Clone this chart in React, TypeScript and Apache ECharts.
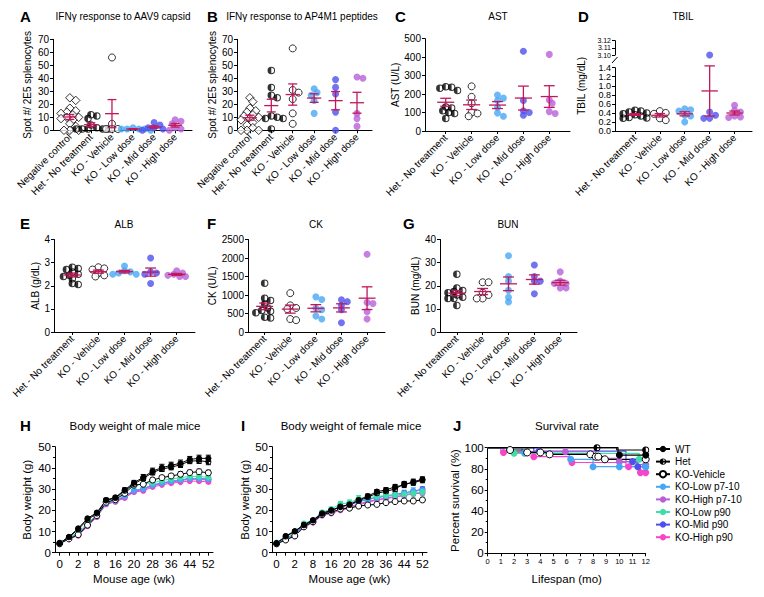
import { useEffect, useRef } from 'react';
import * as echarts from 'echarts';

const FONT = '"Liberation Sans", Arial, Helvetica, sans-serif';
const INK = '#000000';
const MEAN_COLOR = '#C2185B';
const COLOR_LOW = '#48A7F5';
const COLOR_MID = '#4E50EC';
const COLOR_HIGH = '#B860D8';
const COLOR_LOW_P90 = '#3FDEA6';
const COLOR_HIGH_P90 = '#F646C7';

// ---------- Panels A, B : IFNγ ELISpot (spots / 2E5 splenocytes) ----------
const ifnGroups = ['Negative control', 'Het - No treatment', 'KO - Vehicle', 'KO - Low dose', 'KO - Mid dose', 'KO - High dose'];
const aNegative = [25, 23, 17, 15, 14, 13, 12, 10, 10, 9, 8, 5, 3, 0, 0, 0];
const aHet = [12, 11, 9, 4, 2, 1, 1, 1, 1, 1];
const aVehicle = [56, 5, 1, 1, 1];
const aLow = [2, 1, 1, 1, 1, 0];
const aMid = [6, 4, 2, 2, 1, 0];
const aHigh = [8, 7, 5, 2, 1, 0];

const bNegative = [25, 22, 17, 15, 14, 12, 11, 10, 9, 8, 6, 4, 2, 0, 0, 0];
const bHet = [46, 33, 27, 25, 11, 10, 9, 9, 1];
const bVehicle = [63, 31, 29, 24, 13, 5];
const bLow = [32, 29, 27, 23, 13];
const bMid = [39, 33, 28, 14, 0];
const bHigh = [41, 40, 13, 9, 3];

// ---------- Panels C–G : serum chemistry ----------
const chemGroups = ['Het - No treatment', 'KO - Vehicle', 'KO - Low dose', 'KO - Mid dose', 'KO - High dose'];
const cHet = [240, 237, 232, 220, 130, 125, 110, 100, 95, 68];
const cVehicle = [242, 185, 150, 100, 95, 80];
const cLow = [195, 178, 165, 128, 97, 80];
const cMid = [432, 165, 110, 100, 85];
const cHigh = [415, 168, 150, 105, 95];

const dHet = [0.46, 0.44, 0.42, 0.40, 0.38, 0.36, 0.33, 0.30, 0.29, 0.28];
const dVehicle = [0.44, 0.40, 0.38, 0.28, 0.24];
const dLow = [0.49, 0.47, 0.44, 0.35, 0.33, 0.20];
const dMid = [3.10, 0.42, 0.35, 0.28, 0.28];
const dHigh = [0.57, 0.46, 0.42, 0.33, 0.31, 0.30];
const dUpperTicks = ['3.10', '3.11', '3.12'];

const eHet = [2.8, 2.75, 2.7, 2.6, 2.5, 2.45, 2.4, 2.3, 2.1, 2.05];
const eVehicle = [2.8, 2.75, 2.7, 2.55, 2.45, 2.4];
const eLow = [2.85, 2.65, 2.6, 2.55, 2.5, 2.5];
const eMid = [3.2, 2.6, 2.55, 2.5, 2.1];
const eHigh = [2.65, 2.55, 2.5, 2.45, 2.4, 2.4];

const fHet = [1320, 910, 850, 760, 650, 580, 560, 520, 400, 380];
const fVehicle = [1050, 720, 650, 620, 350, 320];
const fLow = [950, 880, 640, 600, 430, 350];
const fMid = [870, 820, 720, 600, 250];
const fHigh = [2100, 800, 770, 550, 350];

const gHet = [25, 19, 18, 17.5, 17, 16, 15, 14.5, 14.5, 11.5];
const gVehicle = [21.5, 21.5, 17, 16, 14.5, 14.5];
const gLow = [33, 24, 22, 18, 15, 13];
const gMid = [29, 24, 22, 22, 16.5];
const gHigh = [26, 22, 21, 21, 19, 19];

// ---------- Panels H, I : body weight (g) ----------
const ageWeeks = ['0', '1', '2', '4', '8', '12', '16', '18', '20', '24', '28', '32', '36', '40', '44', '48', '52'];
const cohortNames = ['WT', 'Het', 'KO-Vehicle', 'KO-Low p7-10', 'KO-High p7-10', 'KO-Low p90', 'KO-Mid p90', 'KO-High p90'];

const hWT = [4.4, 7.5, 11.5, 16.2, 18.9, 24.9, 26.1, 29.6, 33.0, 35.6, 38.5, 40.1, 41.2, 42.2, 44.0, 44.5, 44.5];
const hHet = [4.6, 7.3, 11.0, 15.6, 18.5, 24.6, 25.8, 29.2, 32.4, 35.0, 37.8, 39.5, 40.3, 41.5, 43.2, 43.4, 42.9];
const hVehicle = [4.2, 6.5, 8.5, 13.0, 17.5, 23.8, 25.0, 28.0, 31.9, 32.3, 34.3, 35.4, 36.2, 37.0, 37.8, 38.2, 37.7];
const hLowP7 = [4.5, 7.0, 8.8, 13.2, 17.3, 23.3, 24.6, 26.8, 29.4, 30.2, 32.0, 32.9, 33.7, 34.3, 35.0, 35.0, 34.8];
const hHighP7 = [4.8, 6.8, 8.3, 12.8, 17.0, 23.0, 24.2, 26.1, 29.0, 29.8, 31.6, 32.6, 33.3, 34.0, 34.6, 34.6, 34.2];
const hLowP90 = [4.6, 7.2, 9.5, 14.0, 17.8, 23.8, 25.0, 29.0, 31.8, 32.5, 33.0, 34.0, 34.8, 35.4, 36.0, 35.9, 35.6];
const hMidP90 = [4.5, 7.0, 8.6, 13.0, 17.2, 23.2, 24.4, 26.5, 29.2, 30.0, 31.9, 32.8, 33.6, 34.3, 35.0, 35.0, 34.6];
const hHighP90 = [4.4, 6.6, 8.0, 12.5, 16.8, 22.8, 24.0, 25.8, 28.6, 29.2, 31.0, 32.0, 32.8, 33.3, 33.8, 33.7, 33.4];
const hSemWT = [0.2, 0.4, 0.5, 0.6, 0.7, 0.8, 0.8, 1.0, 1.1, 1.3, 1.4, 1.6, 1.5, 1.5, 1.4, 1.5, 1.5];
const hSemHet = [0.2, 0.3, 0.4, 0.6, 0.6, 0.7, 0.7, 0.9, 1.0, 1.0, 1.1, 1.2, 1.2, 1.3, 1.2, 1.3, 1.4];
const hSemVehicle = [0.2, 0.3, 0.4, 0.5, 0.6, 0.6, 0.6, 0.7, 0.8, 0.8, 0.9, 1.0, 1.0, 1.1, 1.1, 1.2, 1.2];

const iWT = [4.4, 7.9, 10.2, 13.2, 15.4, 18.6, 20.1, 21.5, 22.8, 24.9, 26.7, 28.8, 29.6, 31.1, 31.9, 33.5, 34.6];
const iHet = [4.5, 7.6, 10.0, 13.0, 15.2, 18.4, 19.8, 21.8, 22.5, 24.5, 26.2, 28.0, 29.0, 30.0, 32.5, 33.0, 34.2];
const iVehicle = [4.2, 6.0, 7.9, 12.2, 14.6, 18.0, 19.0, 20.6, 21.0, 22.0, 22.5, 22.8, 23.6, 24.1, 24.4, 24.4, 24.9];
const iLowP7 = [4.4, 6.8, 8.6, 12.8, 15.0, 18.2, 19.6, 21.8, 22.6, 24.0, 25.0, 26.0, 26.6, 27.0, 28.0, 29.0, 29.5];
const iHighP7 = [4.0, 6.2, 7.8, 12.0, 14.2, 17.5, 18.5, 20.0, 21.0, 22.5, 23.8, 24.8, 25.5, 26.2, 27.0, 27.8, 28.2];
const iLowP90 = [4.8, 7.0, 9.0, 13.8, 15.4, 19.0, 20.6, 23.0, 23.6, 25.5, 26.0, 26.5, 27.0, 27.2, 27.5, 28.0, 28.6];
const iMidP90 = [4.5, 6.8, 8.6, 13.2, 15.0, 18.4, 19.8, 21.8, 22.8, 24.2, 25.2, 26.0, 26.8, 27.4, 28.2, 29.0, 30.0];
const iHighP90 = [4.2, 6.2, 8.0, 12.4, 14.4, 17.8, 19.0, 20.6, 21.6, 23.0, 24.2, 25.0, 25.8, 26.4, 27.2, 27.8, 28.4];
const iSemWT = [0.2, 0.3, 0.4, 0.5, 0.5, 0.6, 0.6, 0.7, 0.8, 0.9, 1.0, 1.0, 1.1, 1.1, 1.2, 1.2, 1.2];
const iSemHet = [0.2, 0.3, 0.4, 0.5, 0.5, 0.6, 0.6, 0.7, 0.7, 0.8, 0.9, 1.0, 1.0, 1.1, 1.1, 1.2, 1.2];
const iSemVehicle = [0.2, 0.3, 0.3, 0.4, 0.4, 0.5, 0.5, 0.5, 0.6, 0.6, 0.6, 0.7, 0.7, 0.7, 0.8, 0.8, 0.8];
const iSemLowP7 = [0.2, 0.3, 0.4, 0.5, 0.5, 0.6, 0.7, 0.8, 0.9, 1.0, 1.1, 1.2, 1.3, 1.4, 1.5, 1.6, 1.7];
const iSemLowP90 = [0.3, 0.4, 0.5, 0.6, 0.7, 0.8, 0.9, 1.2, 1.3, 1.5, 1.5, 1.6, 1.6, 1.7, 1.7, 1.8, 1.8];

// ---------- Panel J : survival [months, percent, censored] ----------
const survWT = [[0, 100, 0], [9.9, 93, 0], [10, 93, 1], [12, 93, 1]];
const survHet = [[0, 100, 0], [8.3, 100, 1], [9.8, 97.8, 0], [12, 97.8, 1]];
const survVehicle = [[0, 100, 0], [1.5, 97.8, 0], [1.7, 97.8, 1], [2.9, 95.5, 0], [3, 95.5, 1], [4, 95.5, 1], [4.6, 93.7, 0], [4.7, 93.7, 1], [7.8, 93.7, 1], [8.1, 91.5, 0], [8.2, 91.5, 1], [8.4, 91.5, 1], [8.8, 89, 0], [8.9, 89, 1], [12, 89, 1]];
const survLowP7 = [[0, 100, 0], [2.6, 94.7, 0], [2.8, 94.7, 1], [6.2, 89, 0], [6.3, 89, 1], [8, 82, 1], [10, 82, 1], [12, 82, 1]];
const survHighP7 = [[0, 100, 0], [1.2, 96.2, 0], [5.9, 96.2, 1], [8.2, 90, 0], [9.9, 86.8, 0], [10, 86.8, 1], [11.3, 84, 0], [12, 84, 1]];
const survLowP90 = [[0, 100, 0], [1.9, 94.7, 0], [2, 94.7, 1], [11.5, 89, 1], [12, 89, 1]];
const survMidP90 = [[0, 100, 0], [3.5, 96.8, 0], [3.9, 96.8, 1], [10.5, 86.8, 0], [11, 86.8, 1], [11.4, 82, 1], [12, 82, 1]];
const survHighP90 = [[0, 100, 0], [1, 95.5, 0], [1.2, 95.5, 1], [3.4, 91.5, 0], [3.5, 91.5, 1], [6.3, 86, 0], [6.4, 86, 1], [10.5, 82, 0], [10.7, 82, 1], [11.6, 76.4, 1], [12, 76.4, 1]];

// ---------- styles ----------
const HET_PATH = 'path://M12,0 A12,12 0 0 1 24,12 A12,12 0 0 1 12,24 A12,12 0 0 1 0,12 A12,12 0 0 1 12,0 Z M12,3.2 L12,20.8 A8.8,8.8 0 0 0 20.8,12 A8.8,8.8 0 0 0 12,3.2 Z';

const KIND: Record<string, any> = {
  neg: { symbol: 'diamond', symbolSize: 8.5, itemStyle: { color: '#fff', borderColor: INK, borderWidth: 1 } },
  het: { symbol: HET_PATH, symbolSize: 7.5, itemStyle: { color: INK } },
  veh: { symbol: 'circle', symbolSize: 7, itemStyle: { color: '#fff', borderColor: INK, borderWidth: 1 } },
  low: { symbol: 'circle', symbolSize: 7, itemStyle: { color: COLOR_LOW } },
  mid: { symbol: 'circle', symbolSize: 7, itemStyle: { color: COLOR_MID } },
  high: { symbol: 'circle', symbolSize: 7, itemStyle: { color: COLOR_HIGH } },
};

const COHORT: Record<string, { symbol: string; fill: string; line: string }> = {
  'WT': { symbol: 'circle', fill: INK, line: INK },
  'Het': { symbol: HET_PATH, fill: INK, line: INK },
  'KO-Vehicle': { symbol: 'circle', fill: '#fff', line: INK },
  'KO-Low p7-10': { symbol: 'circle', fill: COLOR_LOW, line: COLOR_LOW },
  'KO-High p7-10': { symbol: 'circle', fill: COLOR_HIGH, line: COLOR_HIGH },
  'KO-Low p90': { symbol: 'circle', fill: COLOR_LOW_P90, line: COLOR_LOW_P90 },
  'KO-Mid p90': { symbol: 'circle', fill: COLOR_MID, line: COLOR_MID },
  'KO-High p90': { symbol: 'circle', fill: COLOR_HIGH_P90, line: COLOR_HIGH_P90 },
};

const ifnKinds = ['neg', 'het', 'veh', 'low', 'mid', 'high'];
const chemKinds = ['het', 'veh', 'low', 'mid', 'high'];

const dotPanels: any[] = [
  { letter: 'A', title: 'IFNγ response to AAV9 capsid', letterX: 20, titleX: 123, rowY: 17.5, groups: ifnGroups, kinds: ifnKinds,
    values: [aNegative, aHet, aVehicle, aLow, aMid, aHigh], yMin: 0, yMax: 70, yStep: 10, dec: 0, tickFont: 10,
    yName: 'Spot #/ 2E5 splenocytes', nameGap: 21, box: [53, 39.3, 139, 91], xMin: -0.8, xMax: 5.8 },
  { letter: 'B', title: 'IFNγ response to AP4M1 peptides', letterX: 207, titleX: 302, rowY: 17.5, groups: ifnGroups, kinds: ifnKinds,
    values: [bNegative, bHet, bVehicle, bLow, bMid, bHigh], yMin: 0, yMax: 70, yStep: 10, dec: 0, tickFont: 10,
    yName: 'Spot #/ 2E5 splenocytes', nameGap: 20, box: [237, 39.3, 135, 91], xMin: -0.6, xMax: 5.7 },
  { letter: 'C', title: 'AST', letterX: 395, titleX: 498, rowY: 17.5, groups: chemGroups, kinds: chemKinds,
    values: [cHet, cVehicle, cLow, cMid, cHigh], yMin: 0, yMax: 500, yStep: 100, dec: 0, tickFont: 10,
    yName: 'AST (U/L)', nameGap: 22, box: [425, 38.7, 145, 92.3], xMin: -0.8, xMax: 4.8 },
  { letter: 'D', title: 'TBIL', letterX: 578, titleX: 683, rowY: 17.5, groups: chemGroups, kinds: chemKinds,
    values: [dHet, dVehicle, dLow, dMid, dHigh], yMin: 0, yMax: 1.4, yStep: 0.2, dec: 1, tickFont: 9,
    yName: '', nameGap: 0, box: [615, 67.7, 137, 63.3], xMin: -0.8, xMax: 4.7,
    upper: { box: [615, 40.7, 137, 14.3], ticks: dUpperTicks },
    sharedName: { text: 'TBIL (mg/dL)', box: [615, 40.7, 137, 90.3], gap: 29 } },
  { letter: 'E', title: 'ALB', letterX: 20, titleX: 124, rowY: 225, groups: chemGroups, kinds: chemKinds,
    values: [eHet, eVehicle, eLow, eMid, eHigh], yMin: 0, yMax: 4, yStep: 1, dec: 0, tickFont: 10,
    yName: 'ALB (g/dL)', nameGap: 11, box: [54, 239.5, 141, 92.5], xMin: -0.7, xMax: 4.7 },
  { letter: 'F', title: 'CK', letterX: 207, titleX: 316, rowY: 225, groups: chemGroups, kinds: chemKinds,
    values: [fHet, fVehicle, fLow, fMid, fHigh], yMin: 0, yMax: 2500, yStep: 500, dec: 0, tickFont: 10,
    yName: 'CK (U/L)', nameGap: 30, box: [248, 239.5, 137, 92.5], xMin: -0.65, xMax: 4.7 },
  { letter: 'G', title: 'BUN', letterX: 403, titleX: 508, rowY: 225, groups: chemGroups, kinds: chemKinds,
    values: [gHet, gVehicle, gLow, gMid, gHigh], yMin: 0, yMax: 40, yStep: 10, dec: 0, tickFont: 10,
    yName: 'BUN (mg/dL)', nameGap: 18, box: [440, 239.5, 137, 92.5], xMin: -0.65, xMax: 4.65 },
];

const weightPanels: any[] = [
  { letter: 'H', title: 'Body weight of male mice', letterX: 20, titleX: 135, box: [55, 446.7, 158, 106], nameGap: 22.5,
    values: { 'WT': hWT, 'Het': hHet, 'KO-Vehicle': hVehicle, 'KO-Low p7-10': hLowP7, 'KO-High p7-10': hHighP7, 'KO-Low p90': hLowP90, 'KO-Mid p90': hMidP90, 'KO-High p90': hHighP90 },
    sem: { 'WT': hSemWT, 'Het': hSemHet, 'KO-Vehicle': hSemVehicle } },
  { letter: 'I', title: 'Body weight of female mice', letterX: 241, titleX: 351, box: [272, 446.7, 155, 106], nameGap: 19,
    values: { 'WT': iWT, 'Het': iHet, 'KO-Vehicle': iVehicle, 'KO-Low p7-10': iLowP7, 'KO-High p7-10': iHighP7, 'KO-Low p90': iLowP90, 'KO-Mid p90': iMidP90, 'KO-High p90': iHighP90 },
    sem: { 'WT': iSemWT, 'Het': iSemHet, 'KO-Vehicle': iSemVehicle, 'KO-Low p7-10': iSemLowP7, 'KO-Low p90': iSemLowP90 } },
];

const survival: Record<string, number[][]> = {
  'WT': survWT, 'Het': survHet, 'KO-Vehicle': survVehicle, 'KO-Low p7-10': survLowP7,
  'KO-High p7-10': survHighP7, 'KO-Low p90': survLowP90, 'KO-Mid p90': survMidP90, 'KO-High p90': survHighP90,
};
const drawOrder = ['KO-High p90', 'KO-Mid p90', 'KO-High p7-10', 'KO-Low p7-10', 'KO-Low p90', 'KO-Vehicle', 'Het', 'WT'];

// ---------- helpers ----------
function meanSem(v: number[]) {
  const n = v.length;
  const m = v.reduce((a, b) => a + b, 0) / n;
  const sd = Math.sqrt(v.reduce((a, b) => a + (b - m) * (b - m), 0) / (n - 1));
  return [m, sd / Math.sqrt(n)];
}

// compact beeswarm layout: horizontal offsets (in axis units) for dots of one column
function swarm(values: number[], pxPerY: number, pxPerX: number, d: number) {
  const order = values.map((_, i) => i).sort((a, b) => values[b] - values[a]);
  const placed: number[][] = [];
  const out = new Array(values.length).fill(0);
  for (const i of order) {
    const py = values[i] * pxPerY;
    let px = 0;
    for (let k = 0; k < 60; k++) {
      const cand = k === 0 ? 0 : (k % 2 === 1 ? 1 : -1) * Math.ceil(k / 2) * d * 0.42;
      if (placed.every(([qx, qy]) => Math.hypot(qx - cand, qy - py) >= d * 0.62)) { px = cand; break; }
    }
    placed.push([px, py]);
    out[i] = px / pxPerX;
  }
  return out;
}

function errorBars(meanW: number, capW: number, color: string, lw: number) {
  return (params: any, api: any) => {
    const x = api.value(0), m = api.value(1), s = api.value(2);
    const c = api.coord([x, m]);
    const top = api.coord([x, m + s])[1];
    const bot = api.coord([x, m - s])[1];
    const u = api.size([1, 0])[0];
    const style = { stroke: color, lineWidth: lw };
    const kids: any[] = [
      { type: 'line', shape: { x1: c[0], y1: top, x2: c[0], y2: bot }, style },
      { type: 'line', shape: { x1: c[0] - u * capW / 2, y1: top, x2: c[0] + u * capW / 2, y2: top }, style },
      { type: 'line', shape: { x1: c[0] - u * capW / 2, y1: bot, x2: c[0] + u * capW / 2, y2: bot }, style },
    ];
    if (meanW > 0) kids.push({ type: 'line', shape: { x1: c[0] - u * meanW / 2, y1: c[1], x2: c[0] + u * meanW / 2, y2: c[1] }, style });
    return { type: 'group', children: kids };
  };
}

function buildOption() {
  const grid: any[] = [], xAxis: any[] = [], yAxis: any[] = [], series: any[] = [], title: any[] = [], graphic: any[] = [];
  const txt = (size: number) => ({ color: INK, fontFamily: FONT, fontSize: size });
  const axLine = { show: true, onZero: false, lineStyle: { color: INK, width: 1 } };
  const tick = (len = 3) => ({ show: true, length: len, lineStyle: { color: INK, width: 1 } });
  const addGrid = (b: number[]) => {
    grid.push({ left: b[0], top: b[1], width: b[2], height: b[3], containLabel: false, outerBoundsMode: 'none' });
    return grid.length - 1;
  };
  const addTitle = (text: string, x: number, y: number, size: number, bold: boolean, align: string) =>
    title.push({ text, left: x, top: y - size * 0.6, textAlign: align, textVerticalAlign: 'top', padding: 0,
      textStyle: { ...txt(size), fontWeight: bold ? 'bold' : 'normal' } });

  // ---------- dot plots ----------
  dotPanels.forEach((p) => {
    addTitle(p.letter, p.letterX, p.rowY, 15, true, 'left');
    addTitle(p.title, p.titleX, p.rowY, 10, false, 'center');
    const gi = addGrid(p.box);
    const catIdx = p.groups.map((_: string, i: number) => i);
    xAxis.push({
      gridIndex: gi, type: 'value', min: p.xMin, max: p.xMax, splitLine: { show: false }, axisLine: axLine,
      axisTick: { ...tick(3), customValues: catIdx },
      axisLabel: { ...txt(10), customValues: catIdx, rotate: 45, margin: 5, formatter: (v: number) => p.groups[Math.round(v)] ?? '' },
    });
    yAxis.push({
      gridIndex: gi, type: 'value', min: p.yMin, max: p.yMax, interval: p.yStep, splitLine: { show: false },
      axisLine: axLine, axisTick: tick(3),
      axisLabel: { ...txt(p.tickFont), margin: 4, showMinLabel: true, showMaxLabel: true, hideOverlap: false, lineHeight: p.tickFont,
        formatter: (v: number) => v.toFixed(p.dec) },
      name: p.yName, nameLocation: 'middle', nameGap: p.nameGap, nameTextStyle: txt(10),
    });
    let ui = -1;
    if (p.upper) {
      ui = addGrid(p.upper.box);
      xAxis.push({ gridIndex: ui, type: 'value', min: p.xMin, max: p.xMax, show: false });
      yAxis.push({
        gridIndex: ui, type: 'category', data: p.upper.ticks, boundaryGap: false,
        splitLine: { show: false }, axisLine: axLine, axisTick: { ...tick(3), interval: 0 },
        axisLabel: { ...txt(7), margin: 4, lineHeight: 6.5, interval: 0, showMinLabel: true, showMaxLabel: true, hideOverlap: false },
      });
      const [bx, by, , bh] = p.upper.box;
      graphic.push({ type: 'line', shape: { x1: bx - 3, y1: by + bh + 8, x2: bx + 2.5, y2: by + bh + 2 }, style: { stroke: INK, lineWidth: 1 } });
    }
    if (p.sharedName) {
      const ni = addGrid(p.sharedName.box);
      xAxis.push({ gridIndex: ni, type: 'value', show: false, min: 0, max: 1 });
      yAxis.push({
        gridIndex: ni, type: 'value', min: 0, max: 1, axisLine: { show: false }, axisTick: { show: false },
        axisLabel: { show: false }, splitLine: { show: false },
        name: p.sharedName.text, nameLocation: 'middle', nameGap: p.sharedName.gap, nameTextStyle: txt(10),
      });
    }
    const pxPerY = p.box[3] / (p.yMax - p.yMin);
    const pxPerX = p.box[2] / (p.xMax - p.xMin);
    p.values.forEach((vals: number[], g: number) => {
      const offs = swarm(vals.map((v) => Math.min(v, p.yMax * 1.5)), pxPerY, pxPerX, 7);
      const low: any[] = [], high: any[] = [];
      vals.forEach((v, k) => {
        if (p.upper && v > p.yMax) high.push([g + offs[k], v.toFixed(2)]);
        else low.push([g + offs[k], v]);
      });
      const st = KIND[p.kinds[g]];
      series.push({ type: 'scatter', xAxisIndex: gi, yAxisIndex: gi, data: low, clip: false, silent: true, z: 2, ...st });
      if (high.length) series.push({ type: 'scatter', xAxisIndex: ui, yAxisIndex: ui, data: high, clip: false, silent: true, z: 2, ...st });
    });
    series.push({
      type: 'custom', xAxisIndex: gi, yAxisIndex: gi, clip: false, silent: true, z: 4,
      data: p.values.map((v: number[], g: number) => [g, ...meanSem(v)]),
      renderItem: errorBars(0.66, 0.42, MEAN_COLOR, 1.3),
    });
  });

  // ---------- body weight ----------
  weightPanels.forEach((p) => {
    addTitle(p.letter, p.letterX, 427, 15, true, 'left');
    addTitle(p.title, p.titleX, 427, 11.5, false, 'center');
    const gi = addGrid(p.box);
    xAxis.push({
      gridIndex: gi, type: 'category', data: ageWeeks, boundaryGap: true, axisLine: axLine,
      axisTick: { ...tick(3), alignWithLabel: true, interval: 0 },
      axisLabel: { ...txt(11.5), interval: 1, margin: 5 },
      name: 'Mouse age (wk)', nameLocation: 'middle', nameGap: 20, nameTextStyle: txt(11.5),
    });
    yAxis.push({
      gridIndex: gi, type: 'value', min: 0, max: 50, interval: 10, splitLine: { show: false }, axisLine: axLine,
      axisTick: tick(3), minorTick: { show: true, splitNumber: 2, length: 2, lineStyle: { color: INK } },
      axisLabel: { ...txt(11.5), margin: 4 },
      name: 'Body weight (g)', nameLocation: 'middle', nameGap: p.nameGap, nameTextStyle: txt(11.5),
    });
    drawOrder.forEach((name) => {
      const st = COHORT[name];
      const sem = p.sem[name];
      if (sem) {
        series.push({
          type: 'custom', xAxisIndex: gi, yAxisIndex: gi, clip: false, silent: true, z: 2,
          data: p.values[name].map((v: number, i: number) => [i, v, sem[i]]),
          renderItem: errorBars(0, 0.55, st.line, 1),
        });
      }
      series.push({
        type: 'line', name, xAxisIndex: gi, yAxisIndex: gi, data: p.values[name], clip: false, silent: true, z: 3,
        symbol: st.symbol, symbolSize: 6, showAllSymbol: true,
        itemStyle: { color: st.fill, borderColor: st.line, borderWidth: st.fill === '#fff' ? 1 : 0 },
        lineStyle: { color: st.line, width: 1 },
      });
    });
  });

  // ---------- survival ----------
  addTitle('J', 453, 427, 15, true, 'left');
  addTitle('Survival rate', 567, 427, 11.5, false, 'center');
  const ji = addGrid([487.7, 447.7, 158, 105.6]);
  xAxis.push({
    gridIndex: ji, type: 'value', min: 0, max: 12, interval: 1, splitLine: { show: false }, axisLine: axLine,
    axisTick: tick(3), axisLabel: { ...txt(7.5), margin: 4 },
    name: 'Lifespan (mo)', nameLocation: 'middle', nameGap: 20, nameTextStyle: txt(11.5),
  });
  yAxis.push({
    gridIndex: ji, type: 'value', min: 0, max: 100, interval: 20, splitLine: { show: false }, axisLine: axLine,
    axisTick: tick(3), minorTick: { show: true, splitNumber: 2, length: 2, lineStyle: { color: INK } },
    axisLabel: { ...txt(11.5), margin: 4 },
    name: 'Percent survival (%)', nameLocation: 'middle', nameGap: 24, nameTextStyle: txt(11.5),
  });
  drawOrder.forEach((name) => {
    const st = COHORT[name];
    series.push({
      type: 'line', name, xAxisIndex: ji, yAxisIndex: ji, step: 'end', clip: false, silent: true, z: 3,
      symbol: st.symbol, symbolSize: 7,
      itemStyle: { color: st.fill, borderColor: st.line, borderWidth: st.fill === '#fff' ? 1 : 0 },
      lineStyle: { color: st.line, width: 1.2 },
      data: survival[name].map(([t, s, c]) => (c ? { value: [t, s] } : { value: [t, s], symbol: 'none' })),
    });
  });

  return {
    animation: false,
    backgroundColor: '#ffffff',
    textStyle: { fontFamily: FONT, color: INK },
    title, grid, xAxis, yAxis, series,
    legend: {
      data: cohortNames, orient: 'vertical', left: 655, top: 444, itemWidth: 14, itemHeight: 8, itemGap: 2.6,
      selectedMode: false, textStyle: txt(10), padding: 0,
    },
    graphic: { elements: graphic },
  };
}

export default function App() {
  const ref = useRef<HTMLDivElement>(null);
  useEffect(() => {
    if (!ref.current) return;
    const chart = echarts.init(ref.current, undefined, { renderer: 'svg' });
    chart.setOption(buildOption() as any);
    return () => chart.dispose();
  }, []);
  return (
    <div
      ref={ref}
      style={{ position: 'absolute', left: 0, top: 0, width: 764, height: 597, background: '#ffffff' }}
    />
  );
}
